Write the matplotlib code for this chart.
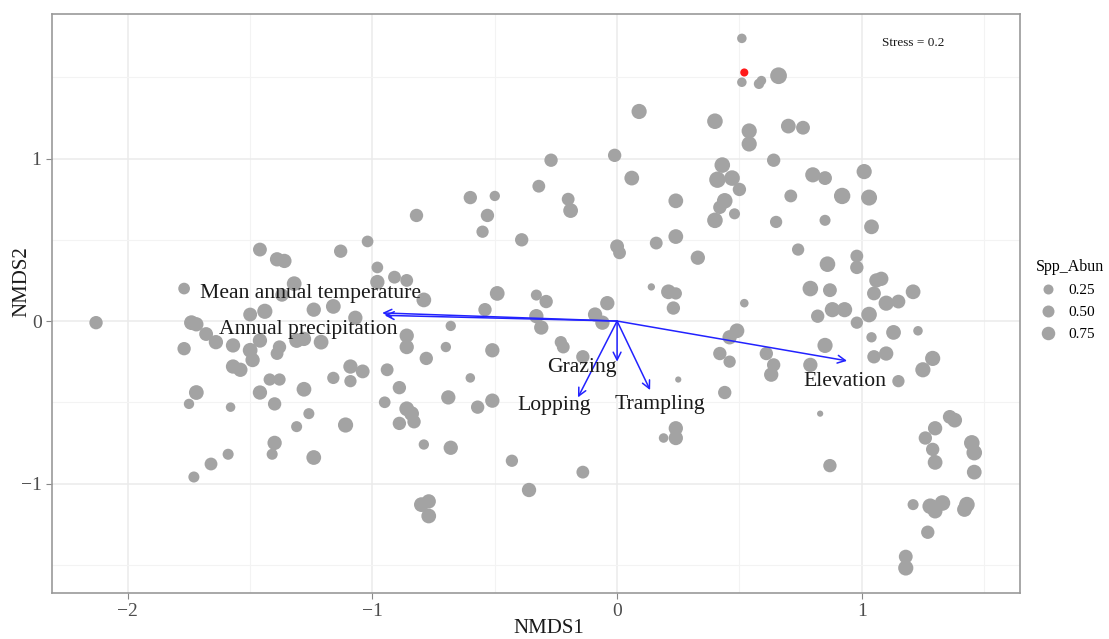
import matplotlib
matplotlib.use("Agg")
import matplotlib.pyplot as plt
from matplotlib.lines import Line2D
import numpy as np

plt.rcParams['font.family'] = ['Liberation Serif', 'DejaVu Serif']

# site scores (NMDS1, NMDS2) and species abundance
nmds1 = [-2.13, -1.77, -1.46, -1.39, -1.36, -1.13, -1.02, -0.98, -0.91, -0.86,
         -0.98, -1.32, -1.37, -0.79, -1.44, -1.50, -1.24, -1.16, -1.07, -1.74,
         -1.72, -1.77, -1.68, -1.64, -1.57, -1.46, -1.50, -1.49, -1.38, -1.39,
         -1.31, -1.28, -1.21, -1.57, -1.54, -1.72, -1.75, -1.58, -1.46, -1.42,
         -1.38, -1.40, -1.28, -1.26, -1.31, -1.16, -1.09, -1.09, -1.04, -1.11,
         -1.40, -1.41, -1.24, -1.59, -1.66, -1.73, -0.94, -0.86, -0.86, -0.78,
         -0.68, -0.70, -0.51, -0.89, -0.60, -0.95, -0.69, -0.57, -0.51, -0.86,
         -0.84, -0.89, -0.83, -0.79, -0.68, -0.43, -0.14, -0.36, -0.80, -0.77,
         -0.77,
         0.09, -0.27, -0.01, 0.06, 0.24, -0.32, -0.60, -0.50, -0.82, -0.53,
         -0.55, -0.20, -0.19, -0.39, 0.00, 0.01, 0.16, 0.24, 0.33, -0.49,
         -0.33, -0.29, -0.04, 0.14, 0.21, 0.24, 0.23, -0.54, -0.33, -0.31,
         -0.09, -0.06, -0.23, -0.22, -0.14, 0.25, 0.24, 0.24, 0.19,
         0.51, 0.51, 0.58, 0.59, 0.66, 0.40, 0.54, 0.54, 0.70, 0.76,
         0.64, 0.43, 0.41, 0.47, 0.50, 0.44, 0.42, 0.48, 0.40, 0.71,
         0.80, 0.85, 1.01, 0.92, 1.03, 0.65, 0.85, 1.04, 0.74, 0.86,
         0.98, 0.98, 1.06, 1.08, 0.79, 0.87, 1.05, 1.10, 1.15, 1.21,
         0.52, 0.82, 0.88, 0.93, 0.98, 1.03, 1.04, 1.13, 1.23,
         0.49, 0.46, 0.42, 0.46, 0.44, 0.61, 0.64, 0.63, 0.85, 0.79,
         0.83, 1.10, 1.05, 1.15, 1.29, 1.25, 1.38, 1.36, 1.30, 1.26,
         1.29, 1.30, 1.45, 1.46, 1.46, 0.87, 1.21, 1.28, 1.33, 1.30,
         1.43, 1.42, 1.27, 1.18, 1.18]
nmds2 = [-0.01, 0.20, 0.44, 0.38, 0.37, 0.43, 0.49, 0.33, 0.27, 0.25,
         0.24, 0.23, 0.16, 0.13, 0.06, 0.04, 0.07, 0.09, 0.02, -0.01,
         -0.02, -0.17, -0.08, -0.13, -0.15, -0.12, -0.18, -0.24, -0.16, -0.20,
         -0.12, -0.11, -0.13, -0.28, -0.30, -0.44, -0.51, -0.53, -0.44, -0.36,
         -0.36, -0.51, -0.42, -0.57, -0.65, -0.35, -0.28, -0.37, -0.31, -0.64,
         -0.75, -0.82, -0.84, -0.82, -0.88, -0.96, -0.30, -0.09, -0.16, -0.23,
         -0.03, -0.16, -0.18, -0.41, -0.35, -0.50, -0.47, -0.53, -0.49, -0.54,
         -0.57, -0.63, -0.62, -0.76, -0.78, -0.86, -0.93, -1.04, -1.13, -1.11,
         -1.20,
         1.29, 0.99, 1.02, 0.88, 0.74, 0.83, 0.76, 0.77, 0.65, 0.65,
         0.55, 0.75, 0.68, 0.50, 0.46, 0.42, 0.48, 0.52, 0.39, 0.17,
         0.16, 0.12, 0.11, 0.21, 0.18, 0.17, 0.08, 0.07, 0.03, -0.04,
         0.04, -0.01, -0.13, -0.16, -0.22, -0.36, -0.66, -0.72, -0.72,
         1.74, 1.47, 1.46, 1.48, 1.51, 1.23, 1.17, 1.09, 1.20, 1.19,
         0.99, 0.96, 0.87, 0.88, 0.81, 0.74, 0.70, 0.66, 0.62, 0.77,
         0.90, 0.88, 0.92, 0.77, 0.76, 0.61, 0.62, 0.58, 0.44, 0.35,
         0.40, 0.33, 0.25, 0.26, 0.20, 0.19, 0.17, 0.11, 0.12, 0.18,
         0.11, 0.03, 0.07, 0.07, -0.01, 0.04, -0.10, -0.07, -0.06,
         -0.06, -0.10, -0.20, -0.25, -0.44, -0.20, -0.27, -0.33, -0.15, -0.27,
         -0.57, -0.20, -0.22, -0.37, -0.23, -0.30, -0.61, -0.59, -0.66, -0.72,
         -0.79, -0.87, -0.75, -0.81, -0.93, -0.89, -1.13, -1.14, -1.12, -1.17,
         -1.13, -1.16, -1.30, -1.45, -1.52]
spp_abun = [0.45, 0.30, 0.50, 0.55, 0.55, 0.45, 0.30, 0.30, 0.40, 0.40,
            0.55, 0.60, 0.45, 0.60, 0.65, 0.50, 0.55, 0.60, 0.55, 0.60,
            0.55, 0.45, 0.50, 0.55, 0.55, 0.55, 0.60, 0.55, 0.45, 0.40,
            0.60, 0.55, 0.60, 0.55, 0.55, 0.60, 0.20, 0.15, 0.55, 0.35,
            0.35, 0.45, 0.60, 0.25, 0.25, 0.35, 0.55, 0.35, 0.50, 0.65,
            0.55, 0.25, 0.60, 0.25, 0.40, 0.25, 0.40, 0.55, 0.55, 0.45,
            0.20, 0.20, 0.55, 0.45, 0.15, 0.30, 0.55, 0.45, 0.55, 0.60,
            0.60, 0.45, 0.45, 0.20, 0.55, 0.35, 0.40, 0.55, 0.60, 0.55,
            0.60,
            0.65, 0.45, 0.45, 0.60, 0.60, 0.40, 0.45, 0.20, 0.45, 0.45,
            0.35, 0.40, 0.60, 0.45, 0.50, 0.40, 0.40, 0.60, 0.55, 0.60,
            0.25, 0.45, 0.55, 0.05, 0.60, 0.35, 0.45, 0.45, 0.55, 0.55,
            0.55, 0.55, 0.35, 0.40, 0.45, 0.02, 0.55, 0.55, 0.15,
            0.15, 0.15, 0.20, 0.15, 0.85, 0.70, 0.65, 0.65, 0.60, 0.50,
            0.45, 0.70, 0.80, 0.70, 0.45, 0.70, 0.45, 0.25, 0.70, 0.40,
            0.65, 0.50, 0.65, 0.80, 0.75, 0.35, 0.25, 0.60, 0.35, 0.70,
            0.40, 0.45, 0.55, 0.55, 0.70, 0.50, 0.50, 0.65, 0.50, 0.60,
            0.10, 0.45, 0.65, 0.65, 0.35, 0.70, 0.20, 0.60, 0.15,
            0.60, 0.55, 0.45, 0.35, 0.45, 0.45, 0.45, 0.55, 0.65, 0.55,
            0.02, 0.55, 0.45, 0.35, 0.65, 0.65, 0.60, 0.50, 0.55, 0.45,
            0.45, 0.60, 0.70, 0.70, 0.60, 0.45, 0.25, 0.70, 0.70, 0.60,
            0.70, 0.60, 0.45, 0.50, 0.65]

# highlighted site
red_x = [0.52]
red_y = [1.53]
red_abun = [0.08]

# fitted environmental vectors
env_names = ['Mean annual temperature', 'Annual precipitation', 'Grazing',
             'Lopping', 'Trampling', 'Elevation']
env_x = [-0.96, -0.95, 0.00, -0.16, 0.135, 0.94]
env_y = [0.05, 0.035, -0.25, -0.47, -0.425, -0.245]
lab_x = [-1.255, -1.263, -0.144, -0.258, 0.176, 0.93]
lab_y = [0.172, -0.055, -0.287, -0.517, -0.511, -0.373]

legend_vals = [0.25, 0.50, 0.75]
stress = 0.2


def size_of(v):
    d = 4.3 + 13.5 * np.sqrt(np.asarray(v))  # diameter in px
    return (d * 0.72) ** 2


fig = plt.figure(figsize=(11.09, 6.39), dpi=100)
ax = fig.add_axes([52 / 1109, 46 / 639, 968 / 1109, 579 / 639])

ax.set_xlim(-2.31, 1.647)
ax.set_ylim(-1.674, 1.89)
ax.set_xticks([-2, -1, 0, 1])
ax.set_yticks([-1, 0, 1])
ax.set_xticks([-1.5, -0.5, 0.5, 1.5], minor=True)
ax.set_yticks([-1.5, -0.5, 0.5, 1.5], minor=True)
ax.grid(True, which='major', color='#ebebeb', linewidth=1.1)
ax.grid(True, which='minor', color='#f3f3f3', linewidth=0.8)
ax.set_axisbelow(True)
ax.set_xticklabels(['\u22122', '\u22121', '0', '1'])
ax.set_yticklabels(['\u22121', '0', '1'])
ax.tick_params(which='major', length=4, color='#888888', labelcolor='#4d4d4d',
               labelsize=14)
ax.tick_params(which='minor', length=0)
for sp in ax.spines.values():
    sp.set_color('#999999')
    sp.set_linewidth(1.2)

ax.scatter(nmds1, nmds2, s=size_of(spp_abun), color='#a3a3a3',
           edgecolors='none', zorder=2)
ax.scatter(red_x, red_y, s=size_of(red_abun), color='#ff1a1a',
           edgecolors='none', zorder=3)

for i in range(len(env_names)):
    ax.annotate('', xy=(env_x[i], env_y[i]), xytext=(0, 0),
                arrowprops=dict(arrowstyle='->', color='#2222ff', lw=1.1,
                                mutation_scale=14, shrinkA=0, shrinkB=0),
                zorder=4)
    ax.text(lab_x[i], lab_y[i], env_names[i], ha='center', va='center',
            fontsize=15.6, color='#1a1a1a', zorder=5)

ax.text(1.21, 1.71, 'Stress = ' + str(stress), ha='center', va='center',
        fontsize=9.5, color='#1a1a1a')

ax.set_xlabel('NMDS1', fontsize=15, color='#1a1a1a')
ax.set_ylabel('NMDS2', fontsize=15, color='#1a1a1a')
ax.xaxis.set_label_coords(0.513, -0.045)
ax.yaxis.set_label_coords(-0.021, 0.537)

handles = [Line2D([], [], linestyle='none', marker='o', color='#a3a3a3',
                  markeredgewidth=0, markersize=0.72 * (5.2 + 9.6 * np.sqrt(v)))
           for v in legend_vals]
leg = fig.legend(handles, ['%.2f' % v for v in legend_vals], title='Spp_Abun',
                 loc='upper left', bbox_to_anchor=(1027 / 1109, 1 - 250 / 639),
                 frameon=False, fontsize=11, title_fontsize=11.5,
                 labelspacing=0.55, handletextpad=0.5, handlelength=1.6,
                 alignment='left', borderaxespad=0.2)

fig.savefig('out.png', dpi=100)
